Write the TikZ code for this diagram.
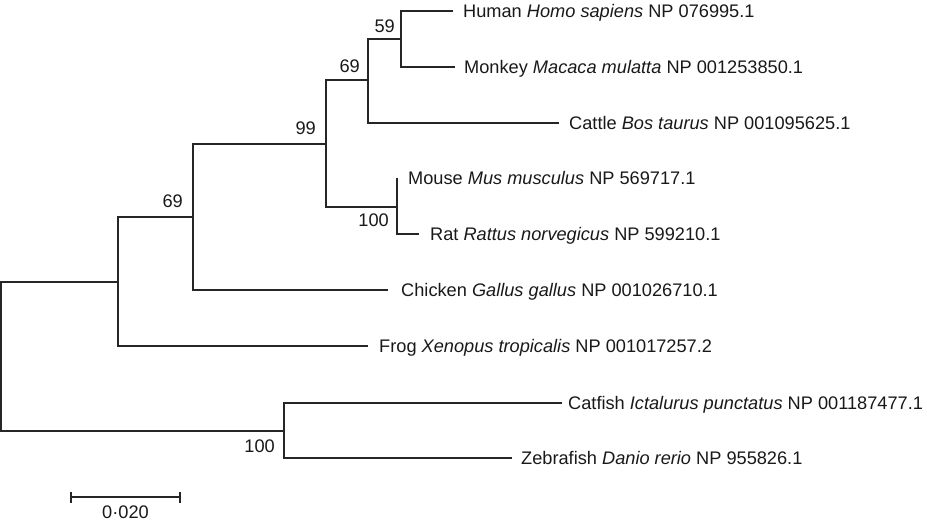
\documentclass[tikz,border=0pt]{standalone}
\usepackage{fontspec}
\setmainfont{Liberation Sans}
\begin{document}
\tikzset{
  branch/.style={draw=black!85, line width=1.4pt},
  leaf/.style={anchor=base west, inner sep=0pt, text=black!90, font=\fontsize{18.2}{20}\selectfont},
  boot/.style={anchor=base east, inner sep=0pt, text=black!90, font=\fontsize{18.2}{20}\selectfont},
}
\begin{tikzpicture}[x=1pt,y=-1pt]
\useasboundingbox (0,0) rectangle (927,523);
% internal nodes
\coordinate (r) at (1,356);
\coordinate (a69) at (118,282);
\coordinate (b99) at (193,217);
\coordinate (c99) at (326,144);
\coordinate (d69) at (368,80);
\coordinate (e59) at (401,39);
\coordinate (m100) at (397,207);
\coordinate (fish) at (284,431);
% tips
\coordinate (thum) at (453,11);
\coordinate (tmon) at (455,67);
\coordinate (tcat) at (559,123);
\coordinate (tmou) at (397,178);
\coordinate (trat) at (419,234);
\coordinate (tchi) at (388,290);
\coordinate (tfro) at (368,346);
\coordinate (tcfi) at (562,403);
\coordinate (tzeb) at (512,458);
% branches
\draw[branch] (a69) -| (r) |- (fish);
\draw[branch] (b99) -| (a69) |- (tfro);
\draw[branch] (c99) -| (b99) |- (tchi);
\draw[branch] (d69) -| (c99) |- (m100);
\draw[branch] (e59) -| (d69) |- (tcat);
\draw[branch] (thum) -| (e59) |- (tmon);
\draw[branch] (tmou) -| (m100) |- (trat);
\draw[branch] (tcfi) -| (fish) |- (tzeb);
% leaf labels
\node[leaf] (lhum) at (463,17.5) {Human \textit{Homo sapiens} NP 076995.1};
\node[leaf] (lmon) at (464,73.5) {Monkey \textit{Macaca mulatta} NP 001253850.1};
\node[leaf] (lcat) at (569,129.5) {Cattle \textit{Bos taurus} NP 001095625.1};
\node[leaf] (lmou) at (408,184.5) {Mouse \textit{Mus musculus} NP 569717.1};
\node[leaf] (lrat) at (430,240.5) {Rat \textit{Rattus norvegicus} NP 599210.1};
\node[leaf] (lchi) at (401,296.5) {Chicken \textit{Gallus gallus} NP 001026710.1};
\node[leaf] (lfro) at (379,352.5) {Frog \textit{Xenopus tropicalis} NP 001017257.2};
\node[leaf] (lcfi) at (568,409.5) {Catfish \textit{Ictalurus punctatus} NP 001187477.1};
\node[leaf] (lzeb) at (521,464.5) {Zebrafish \textit{Danio rerio} NP 955826.1};
% bootstrap values
\node[boot] (b1) at (395,32) {59};
\node[boot] (b2) at (360,72) {69};
\node[boot] (b3) at (316,134) {99};
\node[boot] (b4) at (183,207) {69};
\node[boot] (b5) at (389,226) {100};
\node[boot] (b6) at (275,452) {100};
% scale bar
\coordinate (s1) at (71,497);
\coordinate (s2) at (180,497);
\draw[branch] (s1) -- (s2);
\draw[branch] ([yshift=-5.5pt]s1) -- ([yshift=5.5pt]s1);
\draw[branch] ([yshift=-5.5pt]s2) -- ([yshift=5.5pt]s2);
\node[anchor=base, inner sep=0pt, text=black!90, font=\fontsize{18.2}{20}\selectfont] (sl) at (125.5,518) {0·020};
\end{tikzpicture}
\end{document}
